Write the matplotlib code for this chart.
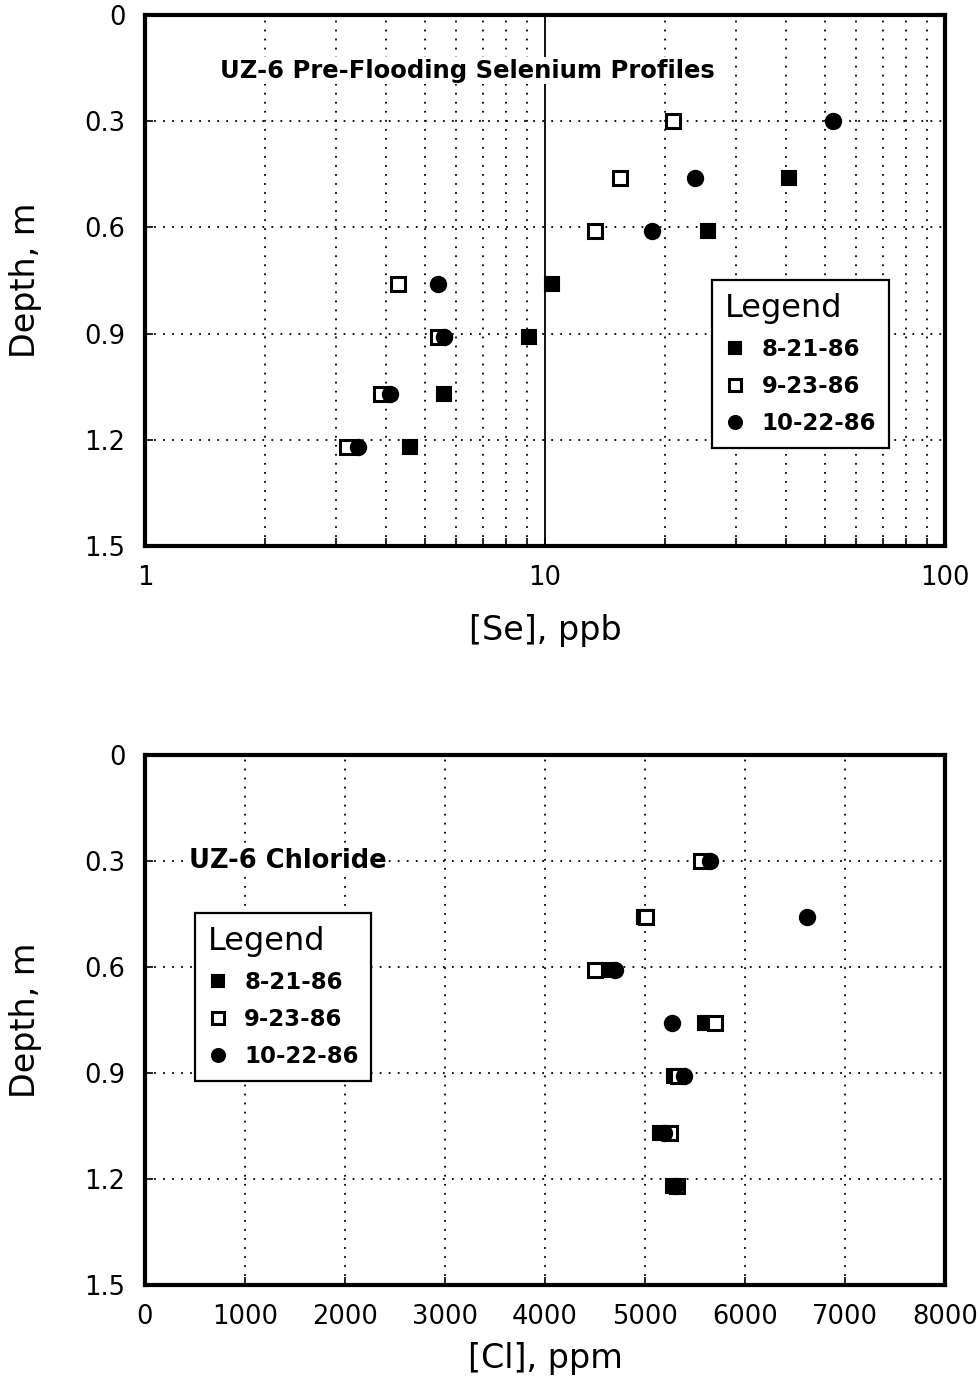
import numpy as np
import matplotlib
matplotlib.use("Agg")
import matplotlib.pyplot as plt
from matplotlib.ticker import FixedLocator, NullFormatter, FixedFormatter

plt.rcParams['font.family'] = ['DejaVu Sans']

# Sampling depths (m)
depths_all = [0.30, 0.46, 0.61, 0.76, 0.91, 1.07, 1.22]
depths_821 = [0.46, 0.61, 0.76, 0.91, 1.07, 1.22]

# Selenium, ppb
se_821 = [40.7, 25.6, 10.4, 9.1, 5.6, 4.6]
se_923 = [20.9, 15.4, 13.3, 4.3, 5.4, 3.9, 3.2]
se_1022 = [52.5, 23.7, 18.5, 5.4, 5.6, 4.1, 3.4]

# Chloride, ppm
cl_821 = [4990, 4650, 5600, 5290, 5150, 5280]
cl_923 = [5560, 5010, 4500, 5700, 5330, 5250, 5320]
cl_1022 = [5650, 6620, 4700, 5270, 5390, 5190, 5300]

series_labels = ["8-21-86", "9-23-86", "10-22-86"]
depth_ticks = [0, 0.3, 0.6, 0.9, 1.2, 1.5]
depth_ticklabels = ["0", "0.3", "0.6", "0.9", "1.2", "1.5"]
cl_ticks = [0, 1000, 2000, 3000, 4000, 5000, 6000, 7000, 8000]

fig = plt.figure(figsize=(9.77, 13.86), dpi=100)
ax1 = fig.add_axes([0.1484, 0.6061, 0.8188, 0.3831])
ax2 = fig.add_axes([0.1484, 0.0729, 0.8188, 0.3824])

dot = (0, (1, 4))
mstyle = [
    dict(marker='s', ms=10, mfc='black', mec='black', mew=1.5, ls='none'),
    dict(marker='s', ms=10, mfc='white', mec='black', mew=2.2, ls='none'),
    dict(marker='o', ms=11, mfc='black', mec='black', mew=1.5, ls='none'),
]


def style_axes(ax):
    for s in ax.spines.values():
        s.set_linewidth(3)
    ax.set_ylim(1.5, 0)
    ax.set_yticks(depth_ticks)
    ax.set_yticklabels(depth_ticklabels)
    ax.tick_params(axis='both', which='both', direction='in', length=6,
                   width=1.2, labelsize=18.5, pad=14)
    ax.tick_params(axis='x', which='both', pad=14)
    ax.grid(True, axis='y', which='major', color='black', linestyle=dot, lw=1.3)
    ax.set_ylabel("Depth, m", fontsize=24)
    ax.yaxis.set_label_coords(-0.129, 0.5)


# Selenium panel
ax1.set_xscale('log')
ax1.set_xlim(1, 100)
style_axes(ax1)
ax1.xaxis.set_major_locator(FixedLocator([1, 10, 100]))
ax1.xaxis.set_major_formatter(FixedFormatter(["1", "10", "100"]))
ax1.xaxis.set_minor_locator(FixedLocator([2, 3, 4, 5, 6, 7, 8, 9,
                                          20, 30, 40, 50, 60, 70, 80, 90]))
ax1.xaxis.set_minor_formatter(NullFormatter())
ax1.grid(True, axis='x', which='minor', color='black', linestyle=dot, lw=1.3)
ax1.axvline(10, color='black', lw=1.3, zorder=1.5)
ax1.plot(se_821, depths_821, label=series_labels[0], **mstyle[0])
ax1.plot(se_923, depths_all, label=series_labels[1], **mstyle[1])
ax1.plot(se_1022, depths_all, label=series_labels[2], **mstyle[2])
ax1.set_xlabel("[Se], ppb", fontsize=24, labelpad=16)
ax1.text(0.094, 0.895, "UZ-6 Pre-Flooding Selenium Profiles", transform=ax1.transAxes,
         fontsize=17.5, fontweight='bold', va='center', ha='left', zorder=4,
         bbox=dict(facecolor='white', edgecolor='none', pad=1))

# Chloride panel
ax2.set_xlim(0, 8000)
style_axes(ax2)
ax2.set_xticks(cl_ticks)
ax2.set_xticklabels([str(v) for v in cl_ticks])
ax2.grid(True, axis='x', which='major', color='black', linestyle=dot, lw=1.3)
ax2.plot(cl_821, depths_821, label=series_labels[0], **mstyle[0])
ax2.plot(cl_923, depths_all, label=series_labels[1], **mstyle[1])
ax2.plot(cl_1022, depths_all, label=series_labels[2], **mstyle[2])
ax2.set_xlabel("[Cl], ppm", fontsize=24, labelpad=8)
ax2.text(0.055, 0.8, "UZ-6 Chloride", transform=ax2.transAxes,
         fontsize=18.5, fontweight='bold', va='center', ha='left', zorder=4,
         bbox=dict(facecolor='white', edgecolor='none', pad=1))


def add_legend(ax, anchor):
    leg = ax.legend(loc='upper left', bbox_to_anchor=anchor, title="Legend",
                    title_fontsize=23, fontsize=16.5, frameon=True, fancybox=False,
                    edgecolor='black', framealpha=1, handletextpad=0.7,
                    handlelength=0.9, markerscale=0.85, borderpad=0.55,
                    labelspacing=0.62, alignment='left', borderaxespad=0)
    leg.get_frame().set_linewidth(1.6)
    for t in leg.get_texts():
        t.set_fontweight('bold')
    leg.set_zorder(5)
    return leg


add_legend(ax1, (0.709, 0.501))
add_legend(ax2, (0.0625, 0.702))

fig.savefig("out.png", dpi=100)
